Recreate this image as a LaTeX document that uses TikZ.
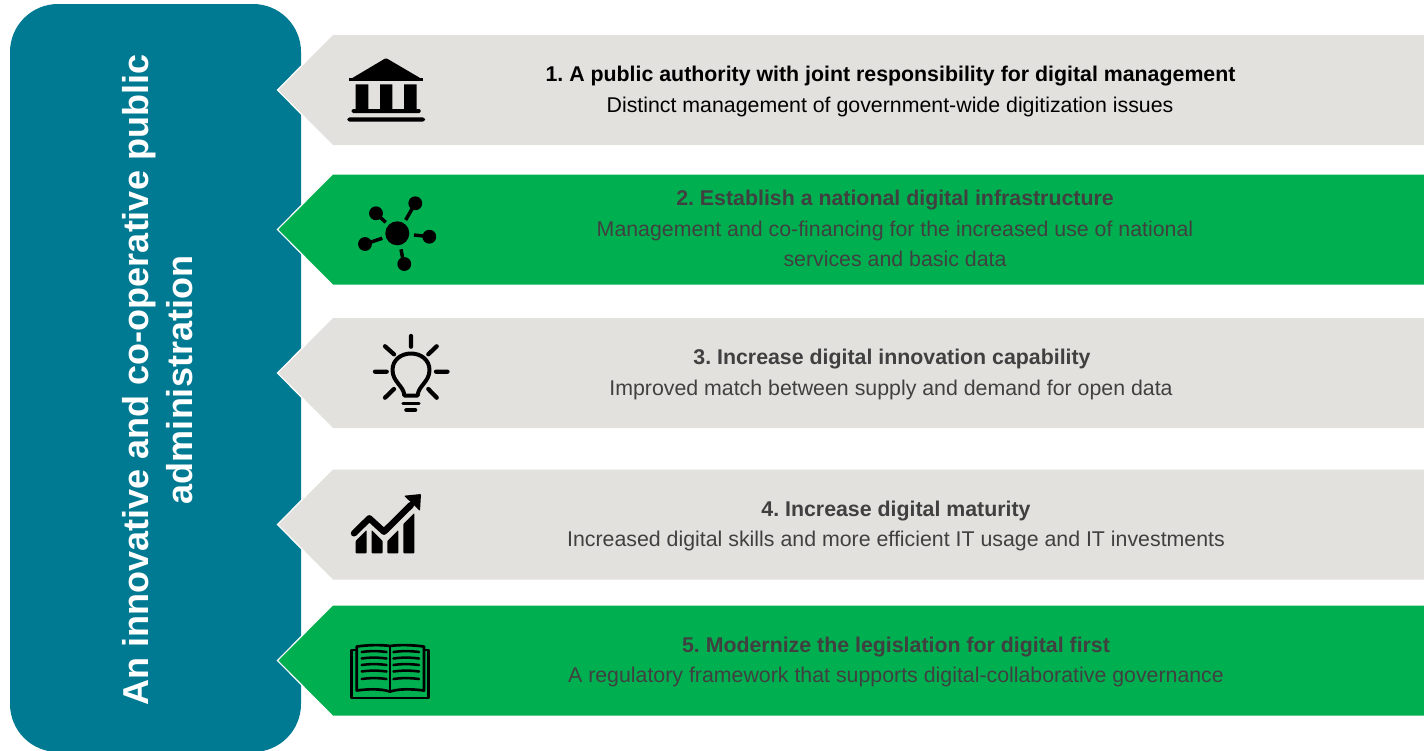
\documentclass[tikz,border=0pt]{standalone}
\usepackage{fontspec}
\setmainfont{Liberation Sans}
\definecolor{teal}{HTML}{007A92}
\definecolor{band}{HTML}{E2E1DD}
\definecolor{grn}{HTML}{00B050}
\definecolor{txt}{HTML}{404040}
\newcommand{\tagband}[3]{% top y, fill, name
  \draw[white,line width=2pt,line join=miter] (278.5,#1+55) -- (333,#1) -- (1430,#1) -- (1430,#1+110) -- (333,#1+110) -- cycle;
  \fill[#2] (278.5,#1+55) -- (333,#1) -- (1430,#1) -- (1430,#1+110) -- (333,#1+110) -- cycle;
  \coordinate (#3) at (333,#1);
}
\tikzset{
  x=0.75pt,y=-0.75pt,
  head/.style={anchor=base,font=\frenchspacing\bfseries\fontsize{16}{19}\selectfont,inner sep=0pt},
  body/.style={anchor=base,font=\frenchspacing\fontsize{16}{19}\selectfont,inner sep=0pt},
  titletext/.style={anchor=base,rotate=90,text=white,font=\frenchspacing\bfseries\fontsize{27}{32}\selectfont,inner sep=0pt},
  iconline/.style={draw=black,line cap=round,line join=round},
}
\begin{document}
\begin{tikzpicture}
\useasboundingbox (0,0) rectangle (1424,750);
\fill[white] (0,0) rectangle (1424,750);
\clip (0,0) rectangle (1424,750);
% side panel
\fill[teal,rounded corners=36pt] (10,4) rectangle (301,752);
\node[titletext] (title1) at (148,380) {An innovative and co-operative public};
\node[titletext] (title2) at (192,380) {administration};
% bands
\tagband{35}{band}{b1}
\tagband{174.5}{grn}{b2}
\tagband{318}{band}{b3}
\tagband{469.5}{band}{b4}
\tagband{605.5}{grn}{b5}
% texts
\node[head,text=black] (h1) at (890.5,81) {1. A public authority with joint responsibility for digital management};
\node[body,text=black] (d1) at (890,112) {Distinct management of government-wide digitization issues};
\node[head,text=txt] (h2) at (895,205) {2. Establish a national digital infrastructure};
\node[body,text=txt] (d2a) at (895,236) {Management and co-financing for the increased use of national};
\node[body,text=txt] (d2b) at (895,266.5) {services and basic data};
\node[head,text=txt] (h3) at (892,364) {3. Increase digital innovation capability};
\node[body,text=txt] (d3) at (891,395) {Improved match between supply and demand for open data};
\node[head,text=txt] (h4) at (896,516) {4. Increase digital maturity};
\node[body,text=txt] (d4) at (896,546) {Increased digital skills and more efficient IT usage and IT investments};
\node[head,text=txt] (h5) at (896,652) {5. Modernize the legislation for digital first};
\node[body,text=txt] (d5) at (896,682) {A regulatory framework that supports digital-collaborative governance};
% icon 1: institution
\fill[black,rounded corners=1pt] (386,58) -- (423.5,80) -- (349,80) -- cycle;
\fill[black] (349,77.5) rectangle (423,80.5);
\fill[black] (355.7,84.3) rectangle (368.3,110) (380,84.3) rectangle (392.3,110) (404,84.3) rectangle (416.7,110);
\fill[black,rounded corners=1pt] (351.7,109) rectangle (420.7,113);
\fill[black,rounded corners=2pt] (347.3,117.3) rectangle (425,121.7);
% icon 2: network
\fill[black] (397.3,233.3) circle[radius=9pt];
\foreach \p in {(376,213.3),(415.3,203.3),(429.3,236.7),(365,244),(404.3,264)} \fill[black] \p circle[radius=5.2pt];
\draw[black,line width=2.6pt] (378,215.3) -- (385.7,222.3) (413.7,206) -- (405.7,220) (414,235) -- (424,236) (368,243) -- (382.3,238.3) (401,249.3) -- (403,260);
% icon 3: bulb
\draw[iconline,line width=3.2pt] (411,336) -- (411,346.7) (375,371.7) -- (386.7,371.7) (436,371.7) -- (447.5,371.7) (385,346.3) -- (394,354.3) (436.7,346.3) -- (428.3,354.3) (385,397.7) -- (394,389) (436.7,397.7) -- (428.3,389);
\draw[iconline,line width=3pt] (404.3,395.5) .. controls (404,386) and (392.5,382) .. (392.5,370) .. controls (392.5,360) and (401,353.5) .. (411,353.5) .. controls (421,353.5) and (429.5,360) .. (429.5,370) .. controls (429.5,382) and (418,386) .. (417.7,395.5) -- cycle;
\draw[iconline,line width=2.6pt] (403,403.5) -- (419,403.5);
\draw[iconline,line width=3.4pt] (406.5,410) -- (415,410);
% icon 4: growth
\fill[black,rounded corners=0.6pt] (355.7,553.3) -- (366.7,553.3) -- (366.7,530) -- (355.7,541) -- cycle;
\fill[black,rounded corners=0.6pt] (371.7,553.3) -- (382.7,553.3) -- (382.7,541) -- (371.7,530) -- cycle;
\fill[black,rounded corners=0.6pt] (387.3,553.3) -- (398.3,553.3) -- (398.3,530) -- (387.3,541) -- cycle;
\fill[black,rounded corners=0.6pt] (403.3,553.3) -- (414.3,553.3) -- (414.3,513) -- (403.3,524) -- cycle;
\draw[iconline,line width=4.8pt] (354,533.3) -- (369.3,518.3) -- (384,531.7) -- (411,505);
\fill[black,rounded corners=0.6pt] (404,495.7) -- (421,494) -- (420,511) -- cycle;
% icon 5: book
\draw[iconline,line width=2pt] (356.7,650) -- (351.7,650) -- (351.7,698) -- (428.3,698) -- (428.3,650) -- (424,650);
\draw[iconline,line width=2pt] (390,691.5) .. controls (380,688.5) and (368,689) .. (356.7,690.5) -- (356.7,646.5) .. controls (368,645) and (380,644.5) .. (390,646) .. controls (400,644.5) and (412,645) .. (424,646.5) -- (424,690.5) .. controls (412,689) and (400,688.5) .. (390,691.5) -- cycle;
\draw[iconline,line width=2pt] (390,646) -- (390,691.5);
\foreach \yy in {652,658.5,665,671.5,679} {
  \draw[iconline,line width=1.9pt] (361.7,\yy) .. controls (370,\yy-1.2) and (378,\yy-1.2) .. (386.5,\yy);
  \draw[iconline,line width=1.9pt] (393.5,\yy) .. controls (402,\yy-1.2) and (410,\yy-1.2) .. (419,\yy);
}
\end{tikzpicture}
\end{document}
